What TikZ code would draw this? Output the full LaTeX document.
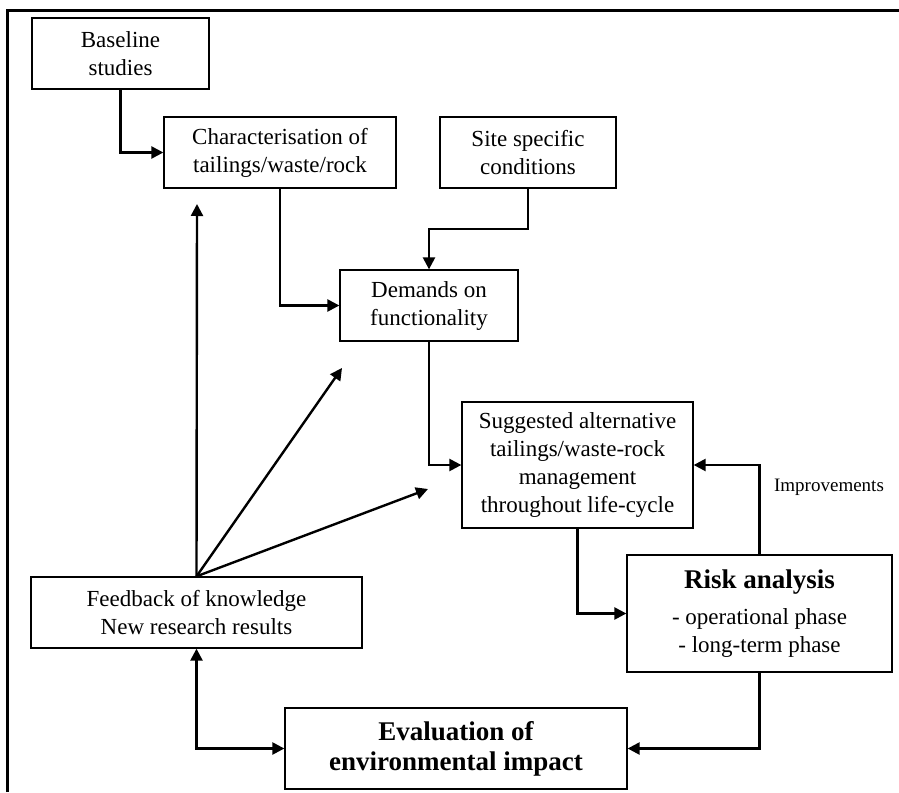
\documentclass[tikz,border=0pt]{standalone}
\usepackage{fontspec}
\setmainfont{Liberation Serif}
\usetikzlibrary{arrows.meta,calc}
\begin{document}
\begin{tikzpicture}[x=1pt,y=-1pt,
  box/.style={draw,line width=1.3pt,rectangle,inner sep=0pt,align=center,
    font=\fontsize{23}{28}\selectfont},
  tip/.tip={Triangle[length=12pt,width=12pt]},
  conn/.style={line width=2.4pt,-tip},
  frameline/.style={line width=3pt}]
\useasboundingbox (0,0) rectangle (899,792);
\draw[frameline] (7,792) -- (7,11) -- (899,11);

\node[box,minimum width=177pt,minimum height=71pt] (base) at (120.5,53.5) {Baseline\\studies};
\node[box,minimum width=232pt,minimum height=71pt] (char) at (280,152.5) {Characterisation of\\tailings/waste/rock};
\node[box,minimum width=176pt,minimum height=71pt] (site) at (528,152.5) {Site specific\\conditions};
\node[box,minimum width=178pt,minimum height=71pt] (dem) at (429,305.5) {Demands on\\functionality};
\node[box,minimum width=231pt,minimum height=126pt] (sug) at (577.5,465) {Suggested alternative\\tailings/waste-rock\\management\\throughout life-cycle};
\node[box,minimum width=265pt,minimum height=117pt] (risk) at (759.5,613.5)
  {{\bfseries\fontsize{27}{30}\selectfont Risk analysis}\\[8pt]- operational phase\\- long-term phase};
\node[box,minimum width=342pt,minimum height=81pt,font=\bfseries\fontsize{27}{30}\selectfont] (eval) at (456,748.5) {Evaluation of\\environmental impact};
\node[box,minimum width=331pt,minimum height=71pt] (feed) at (196.5,612.5) {Feedback of knowledge\\New research results};
\node[font=\fontsize{19}{22}\selectfont] (impr) at (829,487) {Improvements};

\coordinate (f1) at (197,204);
\coordinate (f2) at (342,368);
\coordinate (f3) at (428,489);

\draw[conn] (base.south) |- (char.west);
\draw[conn] (char.south) |- (dem.west);
\draw[conn] (site.south) -- ($(site.south)!.5!(site.south |- dem.north)$) -| (dem.north);
\draw[conn] (dem.south) |- (sug.west);
\draw[conn] (sug.south) |- (risk.west);
\draw[conn] (risk.north) |- (sug.east);
\draw[conn] (risk.south) |- (eval.east);
\draw[conn,tip-tip] (feed.south) |- (eval.west);
\draw[conn] (feed.north) -- (f1);
\draw[conn] (feed.north) -- (f2);
\draw[conn] (feed.north) -- (f3);
\end{tikzpicture}
\end{document}
